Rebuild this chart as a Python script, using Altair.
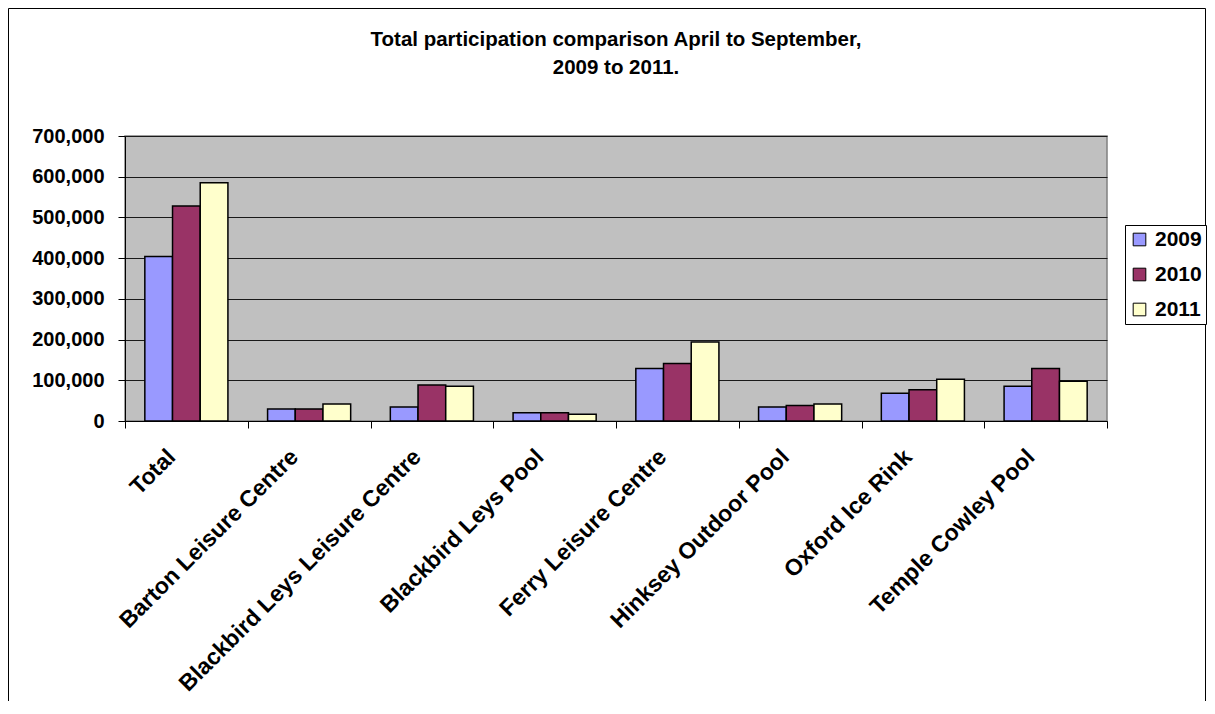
import altair as alt
import pandas as pd

categories = ["Total", "Barton Leisure Centre", "Blackbird Leys Leisure Centre",
              "Blackbird Leys Pool", "Ferry Leisure Centre", "Hinksey Outdoor Pool",
              "Oxford Ice Rink", "Temple Cowley Pool"]
years = ["2009", "2010", "2011"]
values_2009 = [404000, 29600, 34500, 20500, 129000, 34500, 68000, 85400]
values_2010 = [528000, 29600, 88700, 20500, 141000, 37800, 77000, 129000]
values_2011 = [585000, 42000, 85400, 16400, 194000, 42000, 102600, 97700]
colors = ["#9999FF", "#993366", "#FFFFCC"]

rows = []
for yr, vals in zip(years, [values_2009, values_2010, values_2011]):
    for c, v in zip(categories, vals):
        rows.append({"venue": c, "year": yr, "value": v})
df = pd.DataFrame(rows)

FONT = "Liberation Sans"
W, H = 982, 285

bars = alt.Chart(df).mark_bar(stroke="black", strokeWidth=1.5).encode(
    x=alt.X("venue:N", sort=categories, title=None,
            scale=alt.Scale(paddingInner=0, paddingOuter=0),
            axis=alt.Axis(labelAngle=-45, labelAlign="right", labelBaseline="middle",
                          labelFont=FONT, labelFontWeight="bold", labelFontSize=23,
                          labelColor="black", labelPadding=25, labelOffset=-15,
                          tickBand="extent",
                          tickColor="black", tickSize=7, domainColor="black",
                          grid=False, labelLimit=500)),
    xOffset=alt.XOffset("year:N", sort=years,
                        scale=alt.Scale(paddingOuter=0.716, paddingInner=0)),
    y=alt.Y("value:Q", title=None,
            scale=alt.Scale(domain=[0, 700000], nice=False),
            axis=alt.Axis(values=[0, 100000, 200000, 300000, 400000, 500000, 600000, 700000],
                          format=",.0f", labelFont=FONT, labelFontWeight="bold",
                          labelFontSize=20, labelColor="black", labelPadding=14,
                          tickColor="black", tickSize=7, domainColor="black",
                          grid=True, gridColor="#1a1a1a", gridWidth=1, gridOpacity=1)),
    color=alt.Color("year:N", sort=years, title=None,
                    scale=alt.Scale(domain=years, range=colors),
                    legend=alt.Legend(orient="none", legendX=1000, legendY=89,
                                      padding=4, strokeColor="black", fillColor="white",
                                      symbolType="square", symbolSize=160,
                                      symbolStrokeColor="black", symbolStrokeWidth=1,
                                      symbolOpacity=1,
                                      labelFont=FONT, labelFontWeight="bold",
                                      labelFontSize=21, labelColor="black",
                                      labelOffset=5, rowPadding=13)),
)

border = alt.Chart(alt.Data(values=[{}])).mark_rect(
    fill=None, stroke="black", strokeWidth=1
).encode(
    x=alt.value(-116.5), x2=alt.value(1080.5),
    y=alt.value(-127.5), y2=alt.value(700)
)

chart = alt.layer(bars, border).properties(
    width=W, height=H,
    title=alt.Title(["Total participation comparison April to September,", "2009 to 2011."],
                    font=FONT, fontSize=20.5, fontWeight="bold", color="black",
                    lineHeight=28, anchor="middle", offset=-70),
    autosize=alt.AutoSizeParams(type="none"),
    padding={"left": 117, "top": 128, "right": 100, "bottom": 280},
).configure_view(fill="#C0C0C0", stroke="#808080", strokeWidth=1.5)

chart.save("out.html", embed_options={"renderer": "svg", "actions": False})
